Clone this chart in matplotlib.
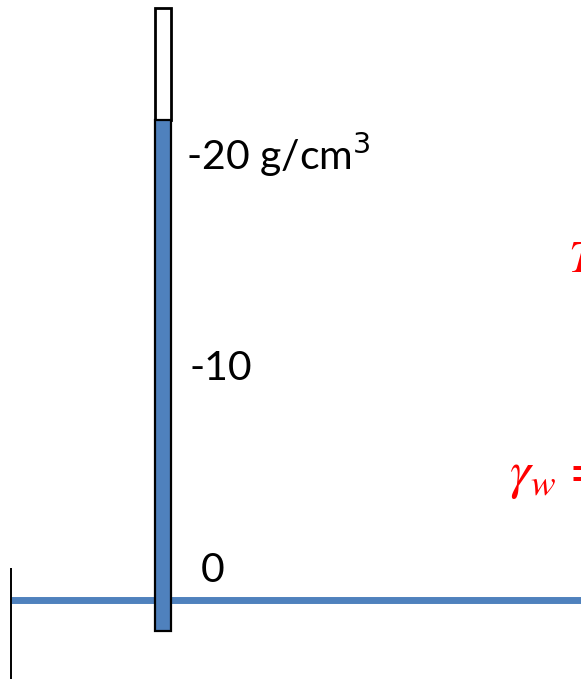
import matplotlib.pyplot as plt
from matplotlib.patches import Rectangle

# escala del tubo (etiquetas y su altura en pixeles)
scale_labels = ['-20 g/cm$^3$', '-10', '0']
scale_x = [186, 189, 201]
scale_y = [155, 368, 570]

# tubo: borde superior, nivel del liquido, borde inferior
tube_x0, tube_x1 = 155, 171
tube_top, fluid_level, tube_bottom = 8, 120, 631

# suelo y linea vertical de la izquierda
ground_y = 600
ground_x = [11, 581]
wall_x = 11
wall_y = [568, 679]

blue = '#4F81BD'

plt.rcParams['mathtext.fontset'] = 'stix'

fig = plt.figure(figsize=(5.81, 6.79), dpi=100)
ax = fig.add_axes([0, 0, 1, 1])
ax.set_xlim(0, 581)
ax.set_ylim(679, 0)
ax.axis('off')

# suelo
ax.plot(ground_x, [ground_y, ground_y], color=blue, lw=5, solid_capstyle='butt', zorder=1)
# pared
ax.plot([wall_x, wall_x], wall_y, color='black', lw=1.4, solid_capstyle='butt', zorder=2)

# tubo vacio y liquido
ax.add_patch(Rectangle((tube_x0, tube_top), tube_x1 - tube_x0, fluid_level - tube_top,
                       facecolor='white', edgecolor='black', lw=2.0, zorder=3))
ax.add_patch(Rectangle((tube_x0, fluid_level), tube_x1 - tube_x0, tube_bottom - fluid_level,
                       facecolor=blue, edgecolor='black', lw=1.6, zorder=3))

for lab, x, y in zip(scale_labels, scale_x, scale_y):
    ax.text(x, y, lab, fontsize=29.5, family='Lato', math_fontfamily='dejavusans',
            va='center', ha='left', color='black')

ax.text(568, 259, r'$T$', fontsize=33, color='red', va='center', ha='left', clip_on=False)
ax.text(509, 476, r'$\gamma_w$ =', fontsize=38, color='red', va='center', ha='left',
        family='STIXGeneral', clip_on=False)

fig.savefig('out.png', dpi=100)
